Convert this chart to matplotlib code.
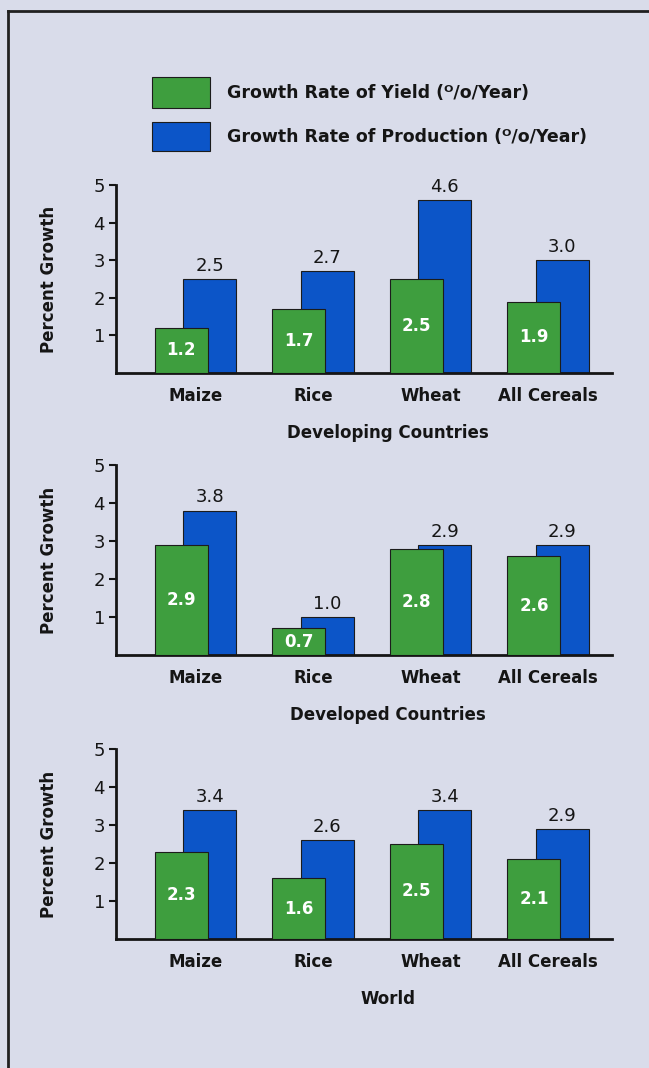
import numpy as np
import matplotlib
matplotlib.use("Agg")
import matplotlib.pyplot as plt
from matplotlib.patches import Rectangle
from matplotlib.lines import Line2D

# Growth rates (% per year), one list per region
crops = ["Maize", "Rice", "Wheat", "All Cereals"]
regions = ["Developing Countries", "Developed Countries", "World"]
yield_growth = [
    [1.2, 1.7, 2.5, 1.9],
    [2.9, 0.7, 2.8, 2.6],
    [2.3, 1.6, 2.5, 2.1],
]
production_growth = [
    [2.5, 2.7, 4.6, 3.0],
    [3.8, 1.0, 2.9, 2.9],
    [3.4, 2.6, 3.4, 2.9],
]
yield_label = "Growth Rate of Yield (\u1d3c/o/Year)"
production_label = "Growth Rate of Production (\u1d3c/o/Year)"

bg_color = "#d9dcea"
green = "#3e9e3e"
blue = "#0c55c8"
edge = "#1c1c1c"
ink = "#151515"

plt.rcParams["font.family"] = ["DejaVu Sans"]

W, H = 649, 1068
fig = plt.figure(figsize=(W / 100, H / 100), dpi=100, facecolor=bg_color)


def fx(px):
    return px / W


def fy(py):
    return 1 - py / H


# frame lines along top and left edge
fig.add_artist(Line2D([fx(8), fx(8)], [0, fy(11)], color="#202020", lw=2, transform=fig.transFigure))
fig.add_artist(Line2D([fx(8), 1], [fy(11), fy(11)], color="#202020", lw=2, transform=fig.transFigure))

# axes boxes in pixels: (top of 5, baseline)
panel_px = [(185, 373), (465, 655), (749, 939)]
left_px, right_px = 116, 612
spacing_px = 117.5
first_center_px = 195.5

x = np.arange(len(crops))
width = 0.45
offset = 0.12

for i, region in enumerate(regions):
    top, base = panel_px[i]
    h_px = base - top
    ax = fig.add_axes([fx(left_px), fy(base), (right_px - left_px) / W, h_px / H])
    ax.set_facecolor("none")

    ax.bar(x + offset, production_growth[i], width, color=blue, edgecolor=edge, linewidth=0.8, zorder=2)
    ax.bar(x - offset, yield_growth[i], width, color=green, edgecolor=edge, linewidth=0.8, zorder=3)

    for xi, p in zip(x, production_growth[i]):
        ax.annotate(f"{p:.1f}", (xi + offset, p), xytext=(0, 3), textcoords="offset points",
                    ha="center", va="bottom", fontsize=13, color=ink)
    for xi, yv in zip(x, yield_growth[i]):
        ax.text(xi - offset, yv / 2, f"{yv:.1f}", ha="center", va="center",
                fontsize=12, fontweight="bold", color="white", zorder=4)

    ax.set_xlim((left_px - first_center_px) / spacing_px,
                3 + (right_px - first_center_px - 3 * spacing_px) / spacing_px)
    ax.set_ylim(0, 5)
    ax.set_yticks([1, 2, 3, 4, 5])
    ax.tick_params(axis="y", length=5, width=1.5, labelsize=13, pad=3, colors=ink)
    ax.set_xticks(x)
    ax.set_xticklabels(crops, fontsize=12, fontweight="bold", color=ink)
    ax.tick_params(axis="x", length=0, pad=10)

    for side in ("top", "right"):
        ax.spines[side].set_visible(False)
    for side in ("left", "bottom"):
        ax.spines[side].set_linewidth(2)
        ax.spines[side].set_color(ink)

    ax.set_ylabel("Percent Growth", fontsize=12, fontweight="bold", color=ink)
    ax.yaxis.set_label_coords((58 - left_px) / (right_px - left_px), 0.5)

    # region name under the crop labels
    ax.text((388 - left_px) / (right_px - left_px), -60 / h_px, region,
            transform=ax.transAxes, ha="center", va="center",
            fontsize=12, fontweight="bold", color=ink)

# legend swatches and labels
legend_rows = [(green, yield_label, 77, 108), (blue, production_label, 122, 151)]
for color, label, y0, y1 in legend_rows:
    fig.add_artist(Rectangle((fx(152), fy(y1)), (210 - 152) / W, (y1 - y0) / H,
                             facecolor=color, edgecolor=edge, linewidth=0.8,
                             transform=fig.transFigure))
    fig.text(fx(227), fy((y0 + y1) / 2), label, ha="left", va="center",
             fontsize=12.5, fontweight="bold", color=ink)

fig.savefig("out.png", dpi=100, facecolor=bg_color)
